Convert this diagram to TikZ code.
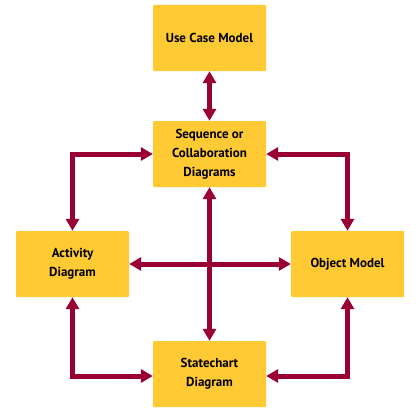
\documentclass[tikz,border=0pt]{standalone}
\usepackage{fontspec}
\setmainfont{PT Sans}
\usepackage{tikz}
\usetikzlibrary{positioning, arrows.meta}
\definecolor{boxyellow}{HTML}{FFCA33}
\definecolor{linkred}{HTML}{990033}

\begin{document}
\begin{tikzpicture}[
    x=1pt, y=-1pt,
    model/.style={rectangle, rounded corners=1pt, fill=boxyellow, minimum width=113pt, minimum height=66pt, align=center, font=\bfseries\fontsize{13}{19}\selectfont},
    link/.style={draw=linkred, line width=5pt, {Triangle[width=13pt, length=12pt]}-{Triangle[width=13pt, length=12pt]}}
]
    \useasboundingbox (0,0) rectangle (420,420);

    % Models
    \node[model] (usecase) at (209.5, 38) {Use Case Model};
    \node[model] (seq) at (209.5, 154) {Sequence or\\Collaboration\\Diagrams};
    \node[model] (activity) at (72.5, 264) {Activity\\Diagram};
    \node[model] (object) at (347.5, 264) {Object Model};
    \node[model] (state) at (209.5, 374) {Statechart\\Diagram};

    % Links
    \draw[link] (usecase.south) -- (seq.north);
    \draw[link] (seq.south) -- (state.north);
    \draw[link] (activity.east) -- (object.west);
    \draw[link] (seq.west) -| (activity.north);
    \draw[link] (seq.east) -| (object.north);
    \draw[link] (activity.south) |- ([yshift=-2pt]state.west);
    \draw[link] (object.south) |- ([yshift=-2pt]state.east);
\end{tikzpicture}
\end{document}
